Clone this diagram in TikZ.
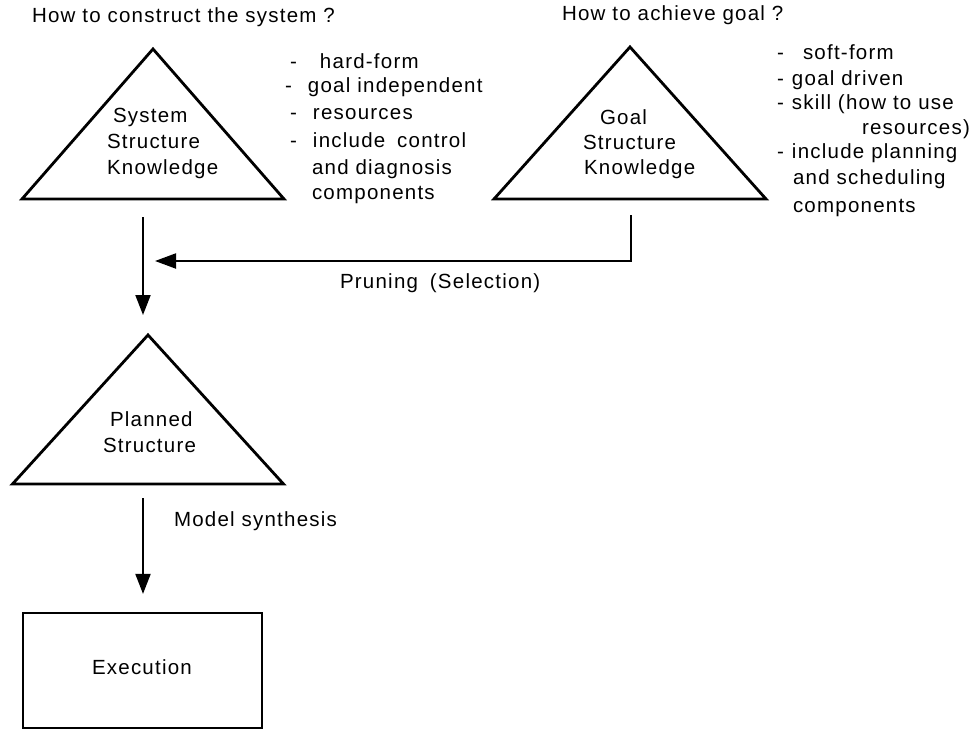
\documentclass[tikz,border=0pt]{standalone}
\usepackage{fontspec}
\setmainfont{Liberation Sans}[LetterSpace=6]
\usetikzlibrary{arrows.meta,calc}
\begin{document}
\begin{tikzpicture}[x=1pt,y=-1pt,
  region/.style={inner sep=0pt, outer sep=0pt, draw=none},
  tri/.style={line width=2.8pt, line join=miter},
  boxline/.style={line width=2.2pt},
  txt/.style={anchor=base west, inner sep=0pt, outer sep=0pt,
              font=\fontsize{20.5}{26}\selectfont},
  flow/.style={line width=2pt, -{Triangle[length=20pt,width=15pt]}}]
\useasboundingbox (0,0) rectangle (971,730);

% ---- triangle regions and the execution box
\node[region, minimum width=262pt, minimum height=150pt] (sys)  at (153,124) {};
\node[region, minimum width=272pt, minimum height=152pt] (goal) at (630,123) {};
\node[region, minimum width=271pt, minimum height=149pt] (pl)   at (148,409.5) {};
\node[boxline, draw, inner sep=0pt, minimum width=239pt, minimum height=115pt] (ex) at (142.5,670.5) {};

\draw[tri] (sys.south west) -- (sys.north) -- (sys.south east) -- cycle;
\draw[tri] (goal.south west) -- (goal.north) -- (goal.south east) -- cycle;
\draw[tri] (pl.south west) -- (pl.north) -- (pl.south east) -- cycle;

% ---- labels inside the shapes
\node[txt] (sysA) at (113,122.5) {System};
\node[txt] (sysB) at (107,148.5) {Structure};
\node[txt] (sysC) at (107,174.5) {Knowledge};
\node[txt] (goalA) at (600,124.5) {Goal};
\node[txt] (goalB) at (583,149.5) {Structure};
\node[txt] (goalC) at (584,174.5) {Knowledge};
\node[txt] (plA) at (110,426.5) {Planned};
\node[txt] (plB) at (103,452.5) {Structure};
\node[txt] (exA) at (92,674.5) {Execution};

% ---- questions
\node[txt] (q1) at (32,23) {How to construct the system ?};
\node[txt] (q2) at (562,21) {How to achieve goal ?};

% ---- properties of the system structure
\node[txt] (s1) at (290,69)  {\makebox[30pt][l]{-}hard-form};
\node[txt] (s2) at (285,93)  {\makebox[23pt][l]{-}goal independent};
\node[txt] (s3) at (290,120) {\makebox[23pt][l]{-}resources};
\node[txt] (s4) at (290,148) {\makebox[23pt][l]{-}include\hspace{5pt} control};
\node[txt] (s5) at (312,175) {and diagnosis};
\node[txt] (s6) at (312,200) {components};

% ---- properties of the goal structure
\node[txt] (g1) at (777,60)  {\makebox[26pt][l]{-}soft-form};
\node[txt] (g2) at (777,86)  {\makebox[15pt][l]{-}goal driven};
\node[txt] (g3) at (777,110) {\makebox[15pt][l]{-}skill (how to use};
\node[txt] (g4) at (862,135) {resources)};
\node[txt] (g5) at (777,159) {\makebox[15pt][l]{-}include planning};
\node[txt] (g6) at (793,185) {and scheduling};
\node[txt] (g7) at (793,212) {components};

% ---- connectors
\coordinate (join) at (155,261);
\draw[flow] ([shift={(-10,18)}]sys.south) -- ([shift={(-5,-20)}]pl.north);
\draw[flow, -{Triangle[length=21pt,width=15pt]}] ([shift={(1,16)}]goal.south) |- (join);
\node[txt] (prune) at (340,288) {Pruning\hspace{5pt} (Selection)};
\draw[flow] ([shift={(-5,14)}]pl.south) -- ([shift={(0.5,-18)}]ex.north);
\node[txt] (synth) at (174,526) {Model synthesis};
\end{tikzpicture}
\end{document}
